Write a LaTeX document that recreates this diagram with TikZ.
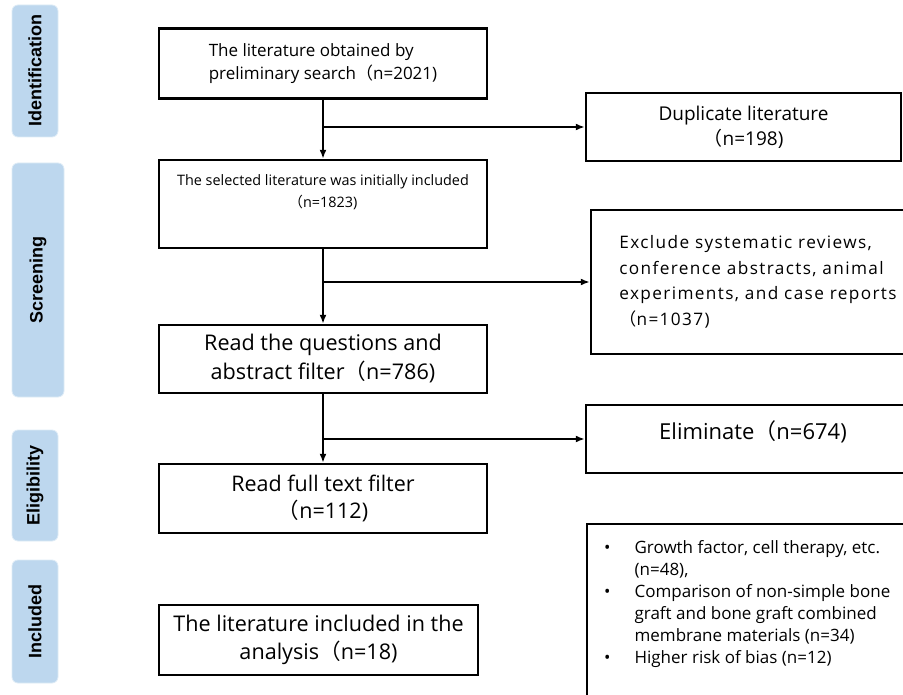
\documentclass[tikz,border=0pt]{standalone}
\usepackage{fontspec}
\setmainfont{Open Sans}
\newfontfamily\cjkfont{Noto Sans CJK SC}
\newfontfamily\stagefont{Liberation Sans}
\newfontfamily\widefont[LetterSpace=8]{Open Sans}
\usetikzlibrary{arrows.meta,positioning}
\definecolor{stageblue}{RGB}{189,215,238}
\newcommand{\fwparen}{{\cjkfont （}}
\newcommand{\fsz}[2]{\fontsize{#1}{#2}\selectfont}

\begin{document}
\begin{tikzpicture}[x = 1pt, y = -1pt, >={Latex[length=9pt, width=7pt]},
  stage/.style = {rotate = 90, rounded corners = 6pt, fill = stageblue, draw = stageblue!50!white, line width = .8pt, font = \stagefont\bfseries\fsz{18}{20}},
  box/.style = {draw, line width = 2.4pt, inner sep = 0pt, align = center},
  flow/.style = {->, line width = 2pt}]
\useasboundingbox (0,0) rectangle (903,695);
\clip (0,0) rectangle (903,695);
% stages
\node[stage, minimum width = 132pt, minimum height = 46pt] (ident) at (35,71) {Identification};
\node[stage, minimum width = 234pt, minimum height = 52pt] (screen) at (38,280) {Screening};
\node[stage, minimum width = 111pt, minimum height = 46pt] (elig) at (35,485.5) {Eligibility};
\node[stage, minimum width = 123pt, minimum height = 46pt] (inc) at (35,621.5) {Included};
% main column
\node[box, align = left, minimum width = 328pt, minimum height = 70pt, font = \fsz{17}{23}] (search) at (323,63.5) {The literature obtained by\\preliminary search\fwparen n=2021)};
\node[box, minimum width = 328pt, minimum height = 88pt, font = \fsz{14.4}{22}] (sel) at (323,204) {The selected literature was initially included\\\fwparen n=1823)\rule[-26pt]{0pt}{26pt}};
\node[box, minimum width = 328pt, minimum height = 68pt, font = \fsz{21.6}{29}] (abs) at (323,359) {Read the questions and\\abstract filter\fwparen n=786)};
\node[box, minimum width = 328pt, minimum height = 69pt, font = \fsz{21.5}{27}] (full) at (323,498.5) {Read full text filter\\\fwparen n=112)};
\node[box, minimum width = 319pt, minimum height = 70pt, font = \fsz{21.6}{28}] (incl) at (318.5,640) {The literature included in the\\analysis\fwparen n=18)};
% side column
\node[box, minimum width = 315pt, minimum height = 68pt, font = \fsz{19}{25}] (dup) at (743.5,127) {Duplicate literature\\\fwparen n=198)};
\node[box, align = left, minimum width = 334pt, minimum height = 144pt, font = \widefont\fsz{17.2}{25.5}] (excl) at (758,282) {Exclude systematic reviews,\\conference abstracts, animal\\experiments, and case reports\\\fwparen n=1037)};
\node[box, minimum width = 334pt, minimum height = 68pt, font = \fsz{22}{24}] (elim) at (753,439) {Eliminate\fwparen n=674)\rule[-18pt]{0pt}{18pt}};
\node[box, anchor = north west, align = left, inner xsep = 17pt, inner ysep = 13.5pt, font = \fsz{17}{22}] (bias) at (586,523) {%
  \begin{tabular}{@{}c@{\hspace{24pt}}p{275pt}@{}}
  \textbullet & Growth factor, cell therapy, etc.\\
   & (n=48),\\
  \textbullet & Comparison of non-simple bone\\
   & graft and bone graft combined\\
   & membrane materials (n=34)\\
  \textbullet & Higher risk of bias (n=12)\\[90pt]
  \end{tabular}};
% connectors
\draw[flow] (search) -- (sel);
\draw[flow] (search.south |- dup.west) -- (dup.west);
\draw[flow] (sel) -- (abs);
\draw[flow] (sel.south |- excl.west) -- (excl.west);
\draw[flow] (abs) -- (full);
\draw[flow] (abs.south |- elim.west) -- (elim.west);
\end{tikzpicture}
\end{document}
